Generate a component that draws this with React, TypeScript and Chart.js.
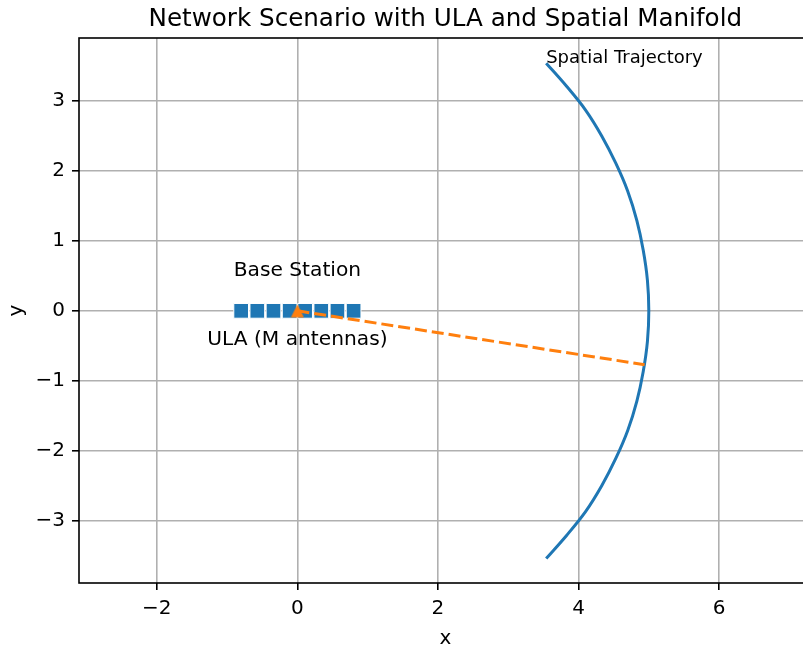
import React, { useEffect, useRef } from "react";
import { Chart, registerables } from "chart.js";
Chart.register(...registerables);

const TITLE = "Network Scenario with ULA and Spatial Manifold";
const X_LABEL = "x";
const Y_LABEL = "y";
const X_TICKS = [-2, 0, 2, 4, 6];
const Y_TICKS = [-3, -2, -1, 0, 1, 2, 3];
const X_MIN = -3.107;
const X_MAX = 7.316;
const Y_MIN = -3.89;
const Y_MAX = 3.9;

// Spatial trajectory (arc)
const ARC_X = [3.54, 3.83, 4.1, 4.33, 4.53, 4.7, 4.83, 4.92, 4.98, 5.0, 4.98, 4.92, 4.83, 4.7, 4.53, 4.33, 4.1, 3.83, 3.54];
const ARC_Y = [-3.54, -3.21, -2.87, -2.5, -2.11, -1.71, -1.29, -0.87, -0.44, 0, 0.44, 0.87, 1.29, 1.71, 2.11, 2.5, 2.87, 3.21, 3.54];
// ULA antennas
const ULA_X = [-0.8, -0.57, -0.34, -0.11, 0.11, 0.34, 0.57, 0.8];
const ULA_Y = [0, 0, 0, 0, 0, 0, 0, 0];
// Base station
const BS_X = [0];
const BS_Y = [0];
// Link from BS to user on trajectory
const LINK_X = [0, 4.94];
const LINK_Y = [0, -0.77];
// Annotations
const NOTE_TEXT = ["Base Station", "ULA (M antennas)", "Spatial Trajectory"];
const NOTE_X = [0, 0, 3.54];
const NOTE_Y = [0.5, -0.49, 3.54];

const BLUE = "#1f77b4";
const ORANGE = "#ff7f0e";
const FONT = "'DejaVu Sans', sans-serif";
const CANVAS_W = 823;
const CANVAS_H = 648;

const fmt = (v: number) => (v < 0 ? "\u2212" + Math.abs(v) : String(v));

const overlay = {
  id: "overlay",
  afterDatasetsDraw(chart: any) {
    const { ctx, chartArea: a, scales } = chart;
    const xs = scales.x;
    const ys = scales.y;
    ctx.save();
    // spines
    ctx.strokeStyle = "#000";
    ctx.lineWidth = 1.6;
    ctx.strokeRect(a.left, a.top, a.right - a.left, a.bottom - a.top);
    ctx.fillStyle = "#000";
    ctx.textBaseline = "alphabetic";
    // annotations
    const sizes = [20.2, 20.2, 18];
    const aligns = ["center", "center", "left"];
    NOTE_TEXT.forEach((t, i) => {
      ctx.font = `${sizes[i]}px ${FONT}`;
      ctx.textAlign = aligns[i];
      ctx.fillText(t, xs.getPixelForValue(NOTE_X[i]), ys.getPixelForValue(NOTE_Y[i]));
    });
    // title
    ctx.font = `24.6px ${FONT}`;
    ctx.textAlign = "center";
    ctx.fillText(TITLE, (a.left + a.right) / 2, 26);
    // axis labels
    ctx.font = `20px ${FONT}`;
    ctx.fillText(X_LABEL, (a.left + a.right) / 2, 644);
    ctx.translate(22, (a.top + a.bottom) / 2);
    ctx.rotate(-Math.PI / 2);
    ctx.fillText(Y_LABEL, 0, 0);
    ctx.restore();
  },
};

function makeTriangle(): HTMLCanvasElement {
  const c = document.createElement("canvas");
  c.width = 14;
  c.height = 14;
  const g = c.getContext("2d")!;
  g.fillStyle = ORANGE;
  g.beginPath();
  g.moveTo(7, 0.5);
  g.lineTo(0.5, 13.5);
  g.lineTo(13.5, 13.5);
  g.closePath();
  g.fill();
  return c;
}

export default function App() {
  const ref = useRef<HTMLCanvasElement | null>(null);
  useEffect(() => {
    if (!ref.current) return;
    const tickFont = { family: FONT, size: 20 };
    const gridOpts = { color: "#b0b0b0", lineWidth: 1.6, tickColor: "#000", tickLength: 7, tickWidth: 1.6 };
    const chart = new Chart(ref.current, {
      type: "scatter",
      data: {
        datasets: [
          { data: BS_X.map((x, i) => ({ x, y: BS_Y[i] })), pointStyle: makeTriangle(), pointRadius: 7, showLine: false, order: 1 } as any,
          { data: LINK_X.map((x, i) => ({ x, y: LINK_Y[i] })), showLine: true, borderColor: ORANGE, borderWidth: 3, borderDash: [12, 5], pointRadius: 0, order: 2 },
          { data: ULA_X.map((x, i) => ({ x, y: ULA_Y[i] })), pointStyle: "rect", pointRadius: 10.4, backgroundColor: BLUE, borderColor: "#fff", borderWidth: 1, showLine: false, order: 3 },
          { data: ARC_X.map((x, i) => ({ x, y: ARC_Y[i] })), showLine: true, borderColor: BLUE, borderWidth: 3, pointRadius: 0, tension: 0.35, order: 4 },
        ],
      },
      options: {
        animation: false,
        responsive: false,
        devicePixelRatio: 1,
        layout: { padding: { top: 38, left: 0, right: 0, bottom: 0 } },
        plugins: { legend: { display: false }, tooltip: { enabled: false }, title: { display: false } },
        scales: {
          x: {
            type: "linear", min: X_MIN, max: X_MAX,
            afterBuildTicks: (s: any) => { s.ticks = X_TICKS.map((v) => ({ value: v })); },
            afterFit: (s: any) => { s.height = CANVAS_H - 583; },
            grid: gridOpts, border: { display: false },
            ticks: { padding: 7, color: "#000", font: tickFont, maxRotation: 0, autoSkip: false, callback: (v: any) => fmt(Number(v)) },
          },
          y: {
            type: "linear", min: Y_MIN, max: Y_MAX,
            afterBuildTicks: (s: any) => { s.ticks = Y_TICKS.map((v) => ({ value: v })); },
            afterFit: (s: any) => { s.width = 79; },
            grid: gridOpts, border: { display: false },
            ticks: { padding: 7, color: "#000", font: tickFont, autoSkip: false, callback: (v: any) => fmt(Number(v)) },
          },
        },
      } as any,
      plugins: [overlay],
    });
    return () => chart.destroy();
  }, []);
  return (
    <div style={{ position: "fixed", left: 0, top: 0, width: 803, height: 648, overflow: "hidden", background: "#fff" }}>
      <canvas ref={ref} width={CANVAS_W} height={CANVAS_H} style={{ display: "block", width: CANVAS_W, height: CANVAS_H }} />
    </div>
  );
}
